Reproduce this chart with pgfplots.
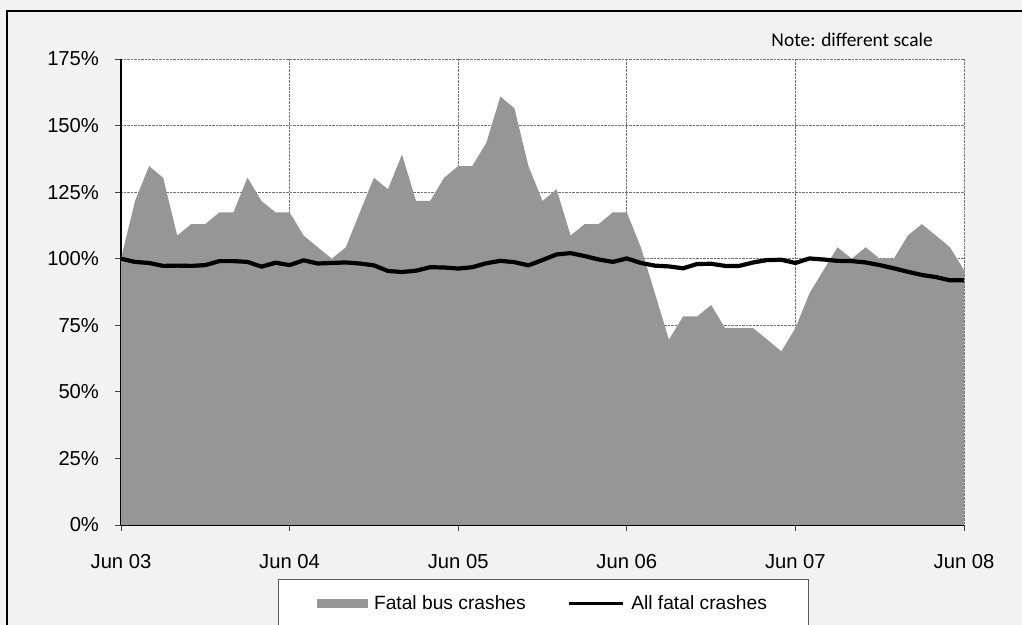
\documentclass[border=0pt]{standalone}
\usepackage{pgfplots}
\pgfplotsset{compat=1.18}
\usepackage{fontspec}
\setmainfont{Liberation Sans}
\newfontfamily\notefont{Carlito}

\definecolor{busgray}{HTML}{969696}
\definecolor{bggray}{HTML}{F2F2F2}

\pgfdeclarelayer{bglayer}
\pgfplotsset{
  layers/chartlayers/.define layer set={bglayer,axis background,axis grid,main,axis ticks,axis lines,axis tick labels,axis descriptions,axis foreground}{},
}

% month index 0 = Jun 03, 60 = Jun 08
\pgfplotstableread{
m bus
0 100.0
1 121.7
2 134.8
3 130.4
4 108.7
5 113.0
6 113.0
7 117.4
8 117.4
9 130.4
10 121.7
11 117.4
12 117.4
13 108.7
14 104.3
15 100.0
16 104.3
17 117.4
18 130.4
19 126.1
20 139.1
21 121.7
22 121.7
23 130.4
24 134.8
25 134.8
26 143.5
27 160.9
28 156.5
29 134.8
30 121.7
31 126.1
32 108.7
33 113.0
34 113.0
35 117.4
36 117.4
37 104.3
38 87.0
39 69.6
40 78.3
41 78.3
42 82.6
43 73.9
44 73.9
45 73.9
46 69.6
47 65.2
48 73.9
49 87.0
50 95.7
51 104.3
52 100.0
53 104.3
54 100.0
55 100.0
56 108.7
57 113.0
58 108.7
59 104.3
60 95.7
}\busdata

\pgfplotstableread{
m all
0 100.0
1 98.8
2 98.4
3 97.3
4 97.4
5 97.3
6 97.6
7 99.1
8 99.1
9 98.8
10 97.0
11 98.5
12 97.6
13 99.4
14 98.2
15 98.4
16 98.6
17 98.2
18 97.5
19 95.4
20 95.0
21 95.5
22 96.8
23 96.7
24 96.3
25 96.8
26 98.3
27 99.2
28 98.7
29 97.5
30 99.5
31 101.6
32 102.1
33 101.0
34 99.7
35 98.8
36 100.1
37 98.4
38 97.4
39 97.1
40 96.4
41 98.0
42 98.1
43 97.3
44 97.3
45 98.6
46 99.5
47 99.6
48 98.4
49 100.1
50 99.7
51 99.2
52 99.1
53 98.6
54 97.6
55 96.4
56 95.1
57 93.9
58 93.1
59 91.9
60 91.9
}\alldata

\begin{document}
\begin{tikzpicture}
\begin{axis}[
  set layers=chartlayers,
  clip mode=individual,
  at={(121bp,100bp)}, anchor=south west,
  width=843bp, height=466bp, scale only axis,
  xmin=0, xmax=60, ymin=0, ymax=175,
  axis background/.style={fill=white},
  axis x line*=bottom, axis y line*=left,
  axis line style={black, line width=1.2bp},
  xtick={0,12,...,60},
  xticklabels={Jun 03,Jun 04,Jun 05,Jun 06,Jun 07,Jun 08},
  ytick={0,25,...,175},
  yticklabels={0\%,25\%,50\%,75\%,100\%,125\%,150\%,175\%},
  tick align=outside, major tick length=6.5bp,
  tick style={black!75, line width=0.8bp},
  grid=major,
  major grid style={densely dotted, black!55, line width=0.8bp},
  ticklabel style={font=\fontsize{20.3}{24}\selectfont},
  xticklabel style={yshift=-19bp},
  yticklabel style={xshift=-12bp},
  legend columns=2,
  legend style={
    at={(0.5006,-0.1150)}, anchor=north,
    draw=black!65, line width=0.8bp, fill=white,
    inner xsep=39bp, inner ysep=15bp,
    font=\fontsize{19.3}{22}\selectfont,
    /tikz/every even column/.append style={column sep=40bp},
  },
]
\begin{pgfonlayer}{bglayer}
  \fill[bggray] (rel axis cs:-0.14353,-0.21459) rectangle (rel axis cs:1.06880,1.12661);
  \draw[black, line width=2bp] (rel axis cs:-0.13523,-0.22) -- (rel axis cs:-0.13523,1.10300) -- (rel axis cs:1.07,1.10300);
\end{pgfonlayer}

\addplot[fill=busgray, draw=none,
  legend image code/.code={\fill[busgray] (0bp,-4.7bp) rectangle (51bp,4.7bp); \path (55bp,0bp);}]
  table[x=m, y=bus] {\busdata} \closedcycle;
\addlegendentry{Fatal bus crashes}

\addplot[black, line width=4.2bp, line join=round,
  legend image code/.code={\draw[black, line width=2.8bp] (0bp,0bp) -- (54bp,0bp); \path (58bp,0bp);}]
  table[x=m, y=all] {\alldata};
\addlegendentry{All fatal crashes}

\node[anchor=base east, font=\notefont\fontsize{19.5}{22}\selectfont]
  at (rel axis cs:0.96700,1.02639) {Note: different scale};
\end{axis}
\pgfresetboundingbox
\useasboundingbox (0,0) rectangle (1022bp,625bp);
\end{tikzpicture}
\end{document}
